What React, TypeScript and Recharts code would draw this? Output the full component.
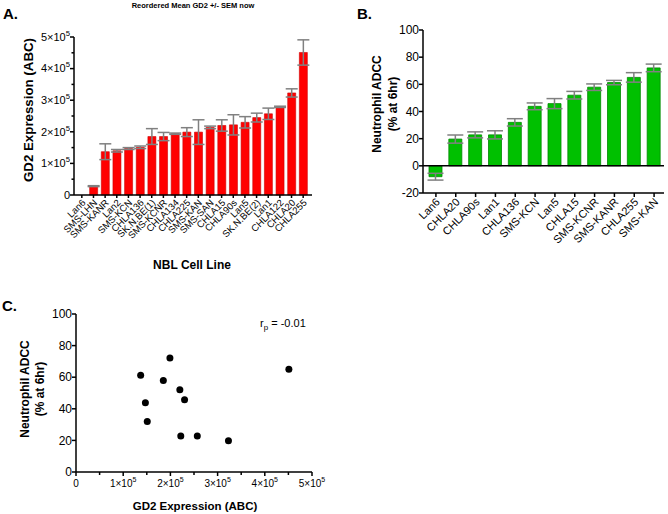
import React from "react";
import { BarChart, Bar, XAxis, YAxis, ErrorBar, ReferenceLine, ScatterChart, Scatter } from "recharts";

const cellLinesA = ["Lan6", "SMS-LHN", "SMS-KANR", "Lan2", "SMS-KCN", "CHLA136", "SK.N.BE(1)", "SMS-KCNR", "CHLA134", "CHLA225", "SMS-KAN", "SMS-SAN", "CHLA15", "CHLA90s", "Lan5", "SK.N.BE(2)", "Lan1", "CHLA122", "CHLA20", "CHLA255"];
const gd2Mean = [0, 28000, 137000, 140000, 147000, 151000, 185000, 185000, 194000, 199000, 199000, 214000, 220000, 222000, 230000, 245000, 257000, 279000, 323000, 451000];
const gd2Sem = [null, 1500, 25000, 4000, 3000, 4000, 25000, 13000, 2000, 14000, 39000, 4000, 18000, 32000, 18000, 14000, 18000, 2000, 13000, 40000];

const cellLinesB = ["Lan6", "CHLA20", "CHLA90s", "Lan1", "CHLA136", "SMS-KCN", "Lan5", "CHLA15", "SMS-KCNR", "SMS-KANR", "CHLA255", "SMS-KAN"];
const adccMean = [-8, 19.7, 22.8, 22.8, 32, 43.8, 45.8, 52, 57.9, 61.3, 65.1, 72.1];
const adccSem = [2.5, 3, 2.2, 3, 2.7, 2.5, 3.7, 2.8, 2.4, 1.6, 3.5, 2.8];

const gd2TicksMinor = [0, 50000, 100000, 150000, 200000, 250000, 300000, 350000, 400000, 450000, 500000];
const adccTicksB = [-20, 0, 20, 40, 60, 80, 100];
const adccTicksC = [0, 20, 40, 60, 80, 100];
const pearsonText = "-0.01";

const dataA = cellLinesA.map((name, i) => ({ name, v: gd2Mean[i], e: gd2Sem[i] }));
const dataB = cellLinesB.map((name, i) => ({ name, v: adccMean[i], e: adccSem[i] }));
const dataC = cellLinesB
  .map((name, i) => ({ name, y: adccMean[i], x: gd2Mean[cellLinesA.indexOf(name)] }))
  .filter((d) => d.y >= 0);

const FONT = '"Liberation Sans", Arial, Helvetica, sans-serif';

function SciLabel({ x, y, v, fontSize, anchor }: any) {
  if (v === 0) {
    return (
      <text x={x} y={y} dy="0.35em" textAnchor={anchor} fontSize={fontSize} fill="#000">0</text>
    );
  }
  return (
    <text x={x} y={y} dy="0.35em" textAnchor={anchor} fontSize={fontSize} fill="#000">
      <tspan>{v / 100000}×10</tspan>
      <tspan dy={-5} fontSize={fontSize * 0.7}>5</tspan>
    </text>
  );
}

function YTickA(props: any) {
  const { x, y, payload } = props;
  const v = payload.value;
  const major = v % 100000 === 0;
  return (
    <g>
      <line x1={x - (major ? 4 : 2.5)} x2={x} y1={y} y2={y} stroke="#000" strokeWidth={1.5} />
      {major && <SciLabel x={x - 4} y={y} v={v} fontSize={11} anchor="end" />}
    </g>
  );
}

function XTickRot(fontSize: number, len: number) {
  return (props: any) => {
    const { x, y, payload } = props;
    return (
      <g>
        <line x1={x} x2={x} y1={y} y2={y + len} stroke="#000" strokeWidth={1.5} />
        <text transform={`translate(${x + 2},${y + len + 3}) rotate(-45)`} textAnchor="end" dy="0.35em" fontSize={fontSize} fill="#000">
          {payload.value}
        </text>
      </g>
    );
  };
}

function YTickPlain(props: any) {
  const { x, y, payload } = props;
  return (
    <g>
      <line x1={x - 4} x2={x} y1={y} y2={y} stroke="#000" strokeWidth={1.5} />
      <text x={x - 4} y={y} dy="0.35em" textAnchor="end" fontSize={12} fill="#000">{payload.value}</text>
    </g>
  );
}

function XTickC(props: any) {
  const { x, y, payload } = props;
  const v = payload.value;
  const major = v % 100000 === 0;
  return (
    <g>
      <line x1={x} x2={x} y1={y} y2={y + (major ? 4 : 3)} stroke="#000" strokeWidth={1.5} />
      {major && <SciLabel x={x} y={y + 11} v={v} fontSize={10} anchor="middle" />}
    </g>
  );
}

const XTickA = XTickRot(9.5, 3);
const XTickB = XTickRot(11, 4);

const Dot = (props: any) => <circle cx={props.cx} cy={props.cy} r={3.5} fill="#000" />;

const abs = (left: number, top: number, extra: React.CSSProperties = {}): React.CSSProperties => ({
  position: "absolute",
  left,
  top,
  whiteSpace: "nowrap",
  ...extra,
});

const rotLabel = (cx: number, cy: number, size: number): React.CSSProperties => ({
  position: "absolute",
  left: cx,
  top: cy,
  transform: "translate(-50%, -50%) rotate(-90deg)",
  whiteSpace: "nowrap",
  fontWeight: "bold",
  fontSize: size,
  lineHeight: 1,
});

const centerLabel = (cx: number, cy: number, size: number, bold = true): React.CSSProperties => ({
  position: "absolute",
  left: cx,
  top: cy,
  transform: "translate(-50%, -50%)",
  whiteSpace: "nowrap",
  fontWeight: bold ? "bold" : "normal",
  fontSize: size,
  lineHeight: 1,
});

export default function App() {
  const axisProps = { stroke: "#000", strokeWidth: 1.5 };
  return (
    <div style={{ position: "absolute", left: 0, top: 0, width: 668, height: 514, background: "#fff", fontFamily: FONT, color: "#000", overflow: "hidden" }}>
      {/* Panel A */}
      <div style={abs(0, 0)}>
        <BarChart width={330} height={290} data={dataA} margin={{ top: 37, right: 18, bottom: 0, left: 0 }}>
          <XAxis dataKey="name" type="category" interval={0} height={95} padding={{ left: 2, right: 3 }} axisLine={axisProps} tickLine={false} tickSize={0} tickMargin={0} tick={XTickA} />
          <YAxis type="number" domain={[0, 500000]} ticks={gd2TicksMinor} width={74} axisLine={axisProps} tickLine={false} tickSize={0} tickMargin={0} tick={YTickA} interval={0} />
          <Bar dataKey="v" fill="#ff0000" stroke="#cc0000" strokeWidth={0.6} barSize={8} isAnimationActive={false}>
            <ErrorBar dataKey="e" width={6} stroke="#808080" strokeWidth={1.5} direction="y" />
          </Bar>
        </BarChart>
      </div>
      <div style={abs(3, 5, { fontSize: 15, fontWeight: "bold" })}>A.</div>
      <div style={centerLabel(193, 6, 7.5)}>Reordered Mean GD2 +/- SEM now</div>
      <div style={rotLabel(29, 110, 13.3)}>GD2 Expression (ABC)</div>
      <div style={centerLabel(192, 265, 12)}>NBL Cell Line</div>

      {/* Panel B */}
      <div style={abs(340, 0)}>
        <BarChart width={328} height={290} data={dataB} margin={{ top: 30, right: 4, bottom: 0, left: 0 }}>
          <XAxis dataKey="name" type="category" interval={0} height={97} padding={{ left: 3, right: 0 }} axisLine={axisProps} tickLine={false} tickSize={0} tickMargin={0} tick={XTickB} />
          <YAxis type="number" domain={[-20, 100]} ticks={adccTicksB} width={83} axisLine={axisProps} tickLine={false} tickSize={0} tickMargin={0} tick={YTickPlain} interval={0} />
          <ReferenceLine y={0} stroke="#000" strokeWidth={1.5} />
          <Bar dataKey="v" fill="#00c000" stroke="#008800" strokeWidth={0.8} barSize={13} isAnimationActive={false}>
            <ErrorBar dataKey="e" width={8} stroke="#808080" strokeWidth={1.5} direction="y" />
          </Bar>
        </BarChart>
      </div>
      <div style={abs(357, 5, { fontSize: 15, fontWeight: "bold" })}>B.</div>
      <div style={rotLabel(377, 104, 12)}>Neutrophil ADCC</div>
      <div style={rotLabel(393, 104, 12)}>(% at 6hr)</div>

      {/* Panel C */}
      <div style={abs(0, 290)}>
        <ScatterChart width={330} height={224} margin={{ top: 24, right: 18, bottom: 0, left: 0 }}>
          <XAxis dataKey="x" type="number" domain={[0, 500000]} ticks={gd2TicksMinor} interval={0} height={42} axisLine={axisProps} tickLine={false} tickSize={0} tickMargin={0} tick={XTickC} />
          <YAxis dataKey="y" type="number" domain={[0, 100]} ticks={adccTicksC} interval={0} width={76} axisLine={axisProps} tickLine={false} tickSize={0} tickMargin={0} tick={YTickPlain} />
          <Scatter data={dataC} fill="#000" shape={Dot} isAnimationActive={false} />
        </ScatterChart>
      </div>
      <div style={abs(2, 297, { fontSize: 15, fontWeight: "bold" })}>C.</div>
      <div style={rotLabel(25, 389, 12)}>Neutrophil ADCC</div>
      <div style={rotLabel(40, 389, 12)}>(% at 6hr)</div>
      <div style={abs(260, 317, { fontSize: 11 })}>
        r<sub style={{ fontSize: 8 }}>p</sub> = {pearsonText}
      </div>
      <div style={centerLabel(195, 507, 11.5)}>GD2 Expression (ABC)</div>
    </div>
  );
}
